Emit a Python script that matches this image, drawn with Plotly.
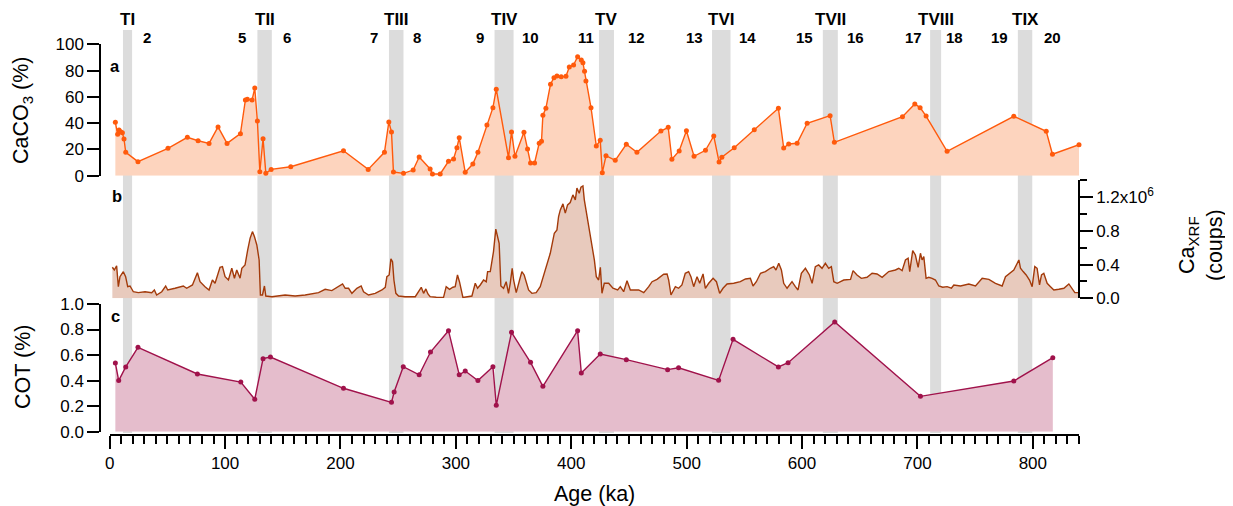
import plotly.graph_objects as go

# ---------------- data ----------------
caco3_age = [4.9, 6.9, 8.1, 9.5, 11.0, 12.4, 13.9, 24.5, 50.5, 67.3, 76.6, 86.1, 93.9, 101.7, 113.3,
             117.6, 119.3, 123.4, 125.7, 128.0, 130.1, 132.9, 135.3, 139.9, 156.9, 202.6, 224.0, 238.1,
             241.9, 244.2, 245.9, 254.6, 263.0, 268.2, 277.7, 279.7, 286.4, 293.6, 298.0, 300.9, 302.9,
             308.1, 314.7, 319.1, 326.9, 332.1, 335.0, 345.6, 348.2, 351.2, 359.0, 362.1, 364.7, 368.2,
             372.2, 374.2, 375.4, 378.0, 382.0, 385.0, 387.6, 391.3, 395.4, 398.3, 402.0, 405.5, 408.7,
             410.1, 411.5, 412.7, 417.1, 421.7, 425.1, 426.9, 430.1, 438.1, 447.7, 456.9, 477.7, 484.0,
             487.2, 493.5, 499.8, 506.4, 516.3, 523.5, 528.1, 530.5, 541.2, 558.6, 579.5, 584.1, 588.4,
             595.7, 604.4, 624.3, 628.0, 687.0, 697.7, 702.3, 707.5, 725.7, 783.5, 811.6, 817.0, 840.0]
caco3_pct = [40.6, 31.5, 34.8, 33.5, 32.7, 27.9, 17.8, 10.7, 20.8, 29.2, 26.6, 24.6, 37.1, 24.6, 32.0,
             57.6, 58.1, 57.6, 66.7, 41.6, 3.0, 28.2, 1.8, 4.8, 6.8, 19.0, 4.8, 17.8,
             40.9, 33.3, 2.8, 1.8, 4.3, 14.2, 5.1, 1.3, 1.3, 11.0, 12.7, 21.3, 28.9,
             2.6, 8.9, 17.8, 38.6, 51.8, 65.8, 13.7, 33.3, 14.8, 33.0, 20.3, 9.7, 9.7,
             24.7, 26.2, 46.0, 51.3, 69.6, 74.6, 75.9, 75.3, 75.6, 82.7, 84.2, 90.6, 88.0,
             86.0, 79.4, 72.1, 51.8, 22.6, 26.9, 2.3, 15.2, 11.7, 23.9, 17.8, 34.0, 36.8,
             12.5, 18.8, 34.2, 14.8, 19.3, 30.2, 10.4, 14.0, 21.3, 35.0, 51.3, 21.1, 24.1,
             24.7, 39.9, 45.7, 25.4, 44.9, 54.6, 51.8, 45.4, 18.6, 45.2, 33.8, 16.3, 23.6]

caxrf_age = [2.3, 4.0, 6.0, 7.5, 8.9, 11.8, 13.8, 15.6, 17.6, 20.5, 24.8, 30.6, 36.4, 38.7, 40.7, 45.1,
             48.5, 50.3, 56.6, 63.8, 66.7, 71.7, 76.0, 78.3, 82.6, 86.1, 89.0, 91.3, 95.6, 97.7, 100.0,
             102.9, 105.8, 108.1, 110.1, 113.0, 114.5, 117.3, 119.6, 121.7, 123.7, 125.4, 127.5, 129.5,
             130.6, 132.4, 134.1, 135.3, 140.5, 152.0, 160.7, 169.4, 181.0, 186.7, 192.5, 198.3, 201.8,
             204.1, 207.0, 209.9, 214.2, 217.9, 220.0, 224.3, 230.1, 235.9, 238.8, 240.2, 242.2, 243.7,
             245.1, 246.3, 248.0, 250.3, 256.1, 264.8, 267.7, 270.0, 272.0, 274.0, 275.8, 277.7, 283.0,
             289.3, 291.6, 294.5, 297.4, 299.4, 301.4, 303.1, 306.1, 313.9, 316.8, 318.8, 321.1, 324.0,
             326.3, 327.5, 329.8, 331.2, 332.6, 334.6, 336.4, 337.5, 339.0, 341.3, 343.6, 345.6, 347.1,
             348.8, 350.0, 352.3, 355.2, 357.2, 359.2, 363.0, 365.9, 369.6, 373.1, 377.4, 381.8, 385.3,
             387.6, 389.0, 390.5, 392.8, 394.8, 396.8, 399.1, 401.4, 403.5, 404.9, 406.9, 408.4, 410.1,
             411.3, 413.6, 415.9, 417.9, 420.0, 421.7, 423.7, 425.2, 426.6, 428.6, 432.4, 436.1, 440.2,
             442.5, 445.4, 448.3, 451.2, 458.4, 462.8, 467.1, 470.0, 474.3, 477.2, 480.1, 483.0, 484.4,
             486.4, 490.2, 493.0, 495.9, 498.8, 501.7, 503.7, 506.1, 509.0, 511.3, 514.2, 516.2, 519.1,
             522.9, 525.8, 528.6, 531.5, 535.0, 540.8, 546.5, 551.0, 555.2, 557.5, 560.4, 564.0, 568.2,
             572.5, 575.4, 577.4, 579.8, 582.1, 584.1, 587.0, 591.3, 594.2, 596.5, 599.4, 602.9, 606.4,
             608.7, 611.5, 614.4, 617.3, 620.2, 623.1, 625.4, 627.5, 630.4, 636.1, 642.0, 644.2, 647.6,
             651.4, 656.3, 660.7, 665.0, 669.4, 675.1, 680.9, 683.8, 686.7, 689.6, 691.9, 693.3, 695.9,
             698.2, 700.6, 702.6, 704.0, 705.5, 707.5, 709.8, 712.7, 715.6, 718.5, 721.9, 725.7, 729.4,
             731.5, 737.3, 744.5, 750.3, 756.1, 761.9, 767.6, 773.4, 776.3, 779.8, 783.5, 787.9, 789.3,
             791.6, 794.2, 797.1, 799.4, 801.7, 803.7, 805.8, 807.5, 809.5, 812.4, 815.3, 818.2, 822.5,
             826.9, 831.2, 834.1, 836.4, 839.3]
caxrf_1e6 = [0.368, 0.336, 0.384, 0.138, 0.257, 0.316, 0.257, 0.138, 0.146, 0.078, 0.067, 0.078, 0.067, 0.099, 0.039, 0.078,
             0.146, 0.099, 0.119, 0.146, 0.119, 0.158, 0.304, 0.197, 0.138, 0.099, 0.217, 0.178, 0.368, 0.376, 0.257,
             0.217, 0.356, 0.238, 0.336, 0.238, 0.356, 0.396, 0.574, 0.713, 0.791, 0.732, 0.633, 0.455,
             0.039, 0.039, 0.146, 0.027, 0.019, 0.039, 0.027, 0.039, 0.067, 0.107, 0.091, 0.138, 0.170,
             0.119, 0.119, 0.059, 0.119, 0.146, 0.078, 0.039, 0.059, 0.099, 0.131, 0.257, 0.277, 0.467,
             0.435, 0.217, 0.059, 0.027, 0.019, 0.019, 0.078, 0.131, 0.059, 0.111, 0.051, 0.019, 0.012,
             0.011, 0.138, 0.107, 0.131, 0.138, 0.277, 0.197, 0.011, 0.027, 0.178, 0.119, 0.158, 0.217,
             0.197, 0.317, 0.317, 0.416, 0.554, 0.820, 0.733, 0.653, 0.146, 0.119, 0.197, 0.059, 0.178,
             0.356, 0.217, 0.067, 0.217, 0.317, 0.277, 0.099, 0.059, 0.067, 0.138, 0.337, 0.534, 0.772,
             0.812, 0.970, 1.049, 1.120, 1.010, 1.108, 1.136, 1.227, 1.168, 1.307, 1.247, 1.319, 1.334,
             1.168, 0.970, 0.812, 0.653, 0.455, 0.257, 0.217, 0.368, 0.059, 0.178, 0.178, 0.119, 0.099,
             0.138, 0.078, 0.209, 0.099, 0.099, 0.067, 0.138, 0.197, 0.225, 0.257, 0.285, 0.289, 0.217,
             0.039, 0.138, 0.119, 0.158, 0.297, 0.317, 0.257, 0.138, 0.257, 0.178, 0.289, 0.119, 0.178,
             0.237, 0.197, 0.059, 0.119, 0.170, 0.178, 0.197, 0.229, 0.237, 0.146, 0.197, 0.297, 0.317,
             0.356, 0.376, 0.336, 0.416, 0.336, 0.178, 0.119, 0.197, 0.138, 0.099, 0.297, 0.356, 0.277,
             0.178, 0.376, 0.396, 0.356, 0.416, 0.356, 0.376, 0.197, 0.178, 0.217, 0.225, 0.328, 0.277,
             0.237, 0.249, 0.297, 0.289, 0.249, 0.317, 0.336, 0.356, 0.328, 0.455, 0.475, 0.317, 0.566,
             0.514, 0.368, 0.534, 0.455, 0.495, 0.237, 0.249, 0.237, 0.217, 0.146, 0.131, 0.138, 0.119,
             0.158, 0.146, 0.170, 0.146, 0.237, 0.225, 0.178, 0.146, 0.257, 0.297, 0.336, 0.455, 0.356,
             0.317, 0.277, 0.217, 0.138, 0.376, 0.356, 0.158, 0.277, 0.297, 0.178, 0.138, 0.099, 0.107,
             0.119, 0.170, 0.119, 0.067, 0.067]

cot_age = [4.9, 7.8, 13.9, 24.5, 76.0, 113.6, 125.7, 132.9, 139.3, 202.6, 244.2, 246.5, 254.4, 268.2,
           278.0, 293.6, 302.9, 308.1, 319.1, 332.1, 335.0, 348.2, 364.7, 375.4, 405.5, 408.7, 425.1,
           447.7, 483.5, 493.0, 527.7, 540.2, 579.5, 587.9, 628.3, 702.6, 783.5, 817.3]
cot_pct = [0.538, 0.40, 0.507, 0.661, 0.452, 0.389, 0.254, 0.572, 0.585, 0.34, 0.23, 0.311, 0.509, 0.446,
           0.624, 0.791, 0.446, 0.475, 0.40, 0.509, 0.207, 0.778, 0.543, 0.355, 0.791, 0.46, 0.608,
           0.564, 0.486, 0.501, 0.402, 0.723, 0.507, 0.54, 0.859, 0.277, 0.397, 0.58]

term_names = ["TI", "TII", "TIII", "TIV", "TV", "TVI", "TVII", "TVIII", "TIX"]
term_start = [11.5, 128.0, 242.0, 333.5, 424.0, 522.0, 618.0, 711.0, 787.0]
term_end = [19.4, 140.5, 254.6, 350.0, 437.0, 538.0, 631.0, 720.5, 799.5]

mis_labels = ["1", "2", "5", "6", "7", "8", "9", "10", "11", "12", "13", "14", "15", "16", "17", "18", "19", "20"]
mis_pos = [-2.1, 32.1, 114.4, 153.4, 229.2, 266.0, 321.1, 364.4, 412.7, 456.9, 506.6, 552.8, 601.7,
           646.2, 696.8, 732.1, 771.3, 816.7]

x_ticks = [0, 100, 200, 300, 400, 500, 600, 700, 800]
caco3_ticks = [0, 20, 40, 60, 80, 100]
caxrf_ticks = [0, 0.4, 0.8, 1.2]
caxrf_ticktext = ["0.0", "0.4", "0.8", "1.2x10<sup>6</sup>"]
caxrf_minor = [0.2, 0.6, 1.0, 1.4]
cot_ticks = [0.0, 0.2, 0.4, 0.6, 0.8, 1.0]

# ---------------- figure ----------------
FONT = "Liberation Sans, Arial, sans-serif"
OFF = 8  # default page margin of the html body
W, H = 1233 - OFF, 506 - OFF
PLOT_L, PLOT_R, PLOT_T, PLOT_B = 100, 1079, 30, 435   # page pixel coordinates of plot area
ML, MT = PLOT_L - OFF, PLOT_T - OFF
MR, MB = 1233 - PLOT_R, 506 - PLOT_B
PW = PLOT_R - PLOT_L
PH = PLOT_B - PLOT_T


def py(p):
    return (PLOT_B - p) / PH


def px(p):
    return (p - PLOT_L) / PW


fig = go.Figure()

fig.add_trace(go.Scatter(x=caco3_age, y=caco3_pct, mode="lines+markers", fill="tozeroy",
                         fillcolor="#FDD4BE", line=dict(color="#FF5A0C", width=1.4),
                         marker=dict(size=5, color="#FF5A0C"), yaxis="y", xaxis="x",
                         showlegend=False, cliponaxis=False))
fig.add_trace(go.Scatter(x=caxrf_age, y=caxrf_1e6, mode="lines", fill="tozeroy",
                         fillcolor="#E8CABD", line=dict(color="#A33A0A", width=1.4),
                         yaxis="y2", xaxis="x", showlegend=False))
fig.add_trace(go.Scatter(x=cot_age, y=cot_pct, mode="lines+markers", fill="tozeroy",
                         fillcolor="#E5BDCC", line=dict(color="#A0124B", width=1.4),
                         marker=dict(size=5, color="#A0124B"), yaxis="y3", xaxis="x",
                         showlegend=False, cliponaxis=False))

shapes = []
for s, e in zip(term_start, term_end):
    shapes.append(dict(type="rect", xref="x", yref="paper", x0=s, x1=e, y0=py(433), y1=1.0,
                       fillcolor="#DCDCDC", line=dict(width=0), layer="below"))

annotations = []
for name, s, e in zip(term_names, term_start, term_end):
    annotations.append(dict(x=(s + e) / 2, y=py(20), xref="x", yref="paper", text="<b>%s</b>" % name,
                            showarrow=False, font=dict(family=FONT, size=17, color="black"),
                            xanchor="center", yanchor="middle"))
for lab, pos in zip(mis_labels, mis_pos):
    annotations.append(dict(x=pos, y=py(38), xref="x", yref="paper", text="<b>%s</b>" % lab,
                            showarrow=False, font=dict(family=FONT, size=15, color="black"),
                            xanchor="center", yanchor="middle"))
for lab, xk, yp in [("a", 4.6, 66), ("b", 6.0, 196), ("c", 5.2, 316)]:
    annotations.append(dict(x=xk, y=py(yp), xref="x", yref="paper", text="<b>%s</b>" % lab,
                            showarrow=False, font=dict(family=FONT, size=16.5, color="black"),
                            xanchor="center", yanchor="middle"))

TITLE_SIZE = 21.5
annotations += [
    dict(x=px(22), y=py(110), xref="paper", yref="paper", text="CaCO<sub>3</sub> (%)", textangle=-90,
         showarrow=False, font=dict(family=FONT, size=TITLE_SIZE, color="black"), xanchor="center", yanchor="middle"),
    dict(x=px(23), y=py(367), xref="paper", yref="paper", text="COT (%)", textangle=-90,
         showarrow=False, font=dict(family=FONT, size=TITLE_SIZE, color="black"), xanchor="center", yanchor="middle"),
    dict(x=px(594), y=py(494), xref="paper", yref="paper", text="Age (ka)",
         showarrow=False, font=dict(family=FONT, size=TITLE_SIZE, color="black"), xanchor="center", yanchor="middle"),
    dict(x=px(1201), y=py(245), xref="paper", yref="paper", text="Ca<sub>XRF</sub><br>(coups)", textangle=-90,
         showarrow=False, font=dict(family=FONT, size=TITLE_SIZE, color="black"), xanchor="center", yanchor="middle"),
]

axis_common = dict(showgrid=False, zeroline=False, showline=True, linecolor="black", linewidth=1.5,
                   ticks="outside", tickcolor="black", tickwidth=1.5,
                   tickfont=dict(family=FONT, size=17, color="black"))

fig.update_layout(
    width=W, height=H, margin=dict(l=ML, r=MR, t=MT, b=MB, autoexpand=False),
    paper_bgcolor="white", plot_bgcolor="white",
    shapes=shapes, annotations=annotations,
    xaxis=dict(domain=[px(109.7), 1.0], range=[0, 840], anchor="free", position=0,
               tickvals=x_ticks, ticklen=13,
               minor=dict(dtick=10, tick0=0, ticklen=8, ticks="outside", tickcolor="black", tickwidth=1.5),
               **axis_common),
    yaxis=dict(domain=[py(175.7), py(44.3)], range=[0, 100], anchor="free", position=0,
               tickvals=caco3_ticks, ticklen=12, **axis_common),
    yaxis2=dict(domain=[py(298.3), py(180.3)], range=[0, 1.4], anchor="free", position=1, side="right",
                tickvals=caxrf_ticks, ticktext=caxrf_ticktext, ticklen=13,
                minor=dict(tickvals=caxrf_minor, ticklen=7, ticks="outside", tickcolor="black", tickwidth=1.5),
                **axis_common),
    yaxis3=dict(domain=[py(431.7), py(304)], range=[0, 1.0], anchor="free", position=0,
                tickvals=cot_ticks, tickformat=".1f", ticklen=12, **axis_common),
)

fig.write_html("out.html")
